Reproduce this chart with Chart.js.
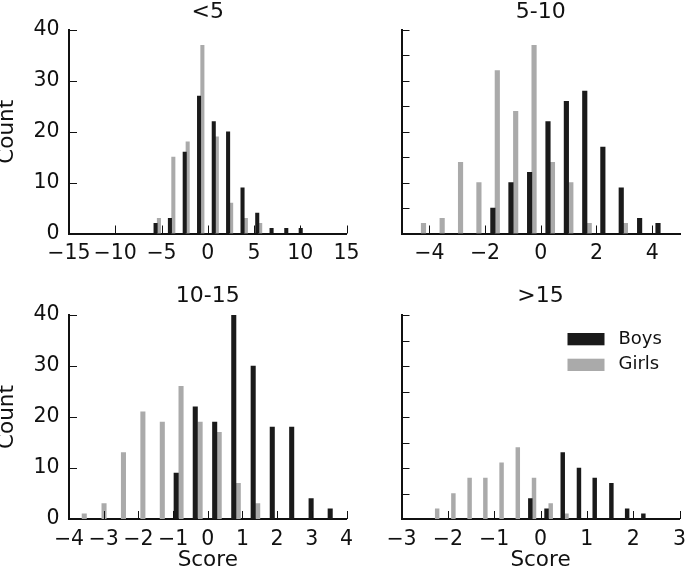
<!DOCTYPE html>
<html>
<head>
<meta charset="utf-8">
<script src="https://cdn.jsdelivr.net/npm/chart.js@4.4.1/dist/chart.umd.min.js"></script>
<style>
  html, body { margin: 0; padding: 0; background: #fff; width: 685px; height: 577px; overflow: hidden; }
  canvas { position: absolute; left: 0; top: 0; }
</style>
</head>
<body>
<canvas id="p1" width="720" height="600"></canvas>
<canvas id="p2" width="720" height="600"></canvas>
<canvas id="p3" width="720" height="600"></canvas>
<canvas id="p4" width="720" height="600"></canvas>
<script>
const groupTitles = ['<5', '5-10', '10-15', '>15'];
const seriesNames = ['Boys', 'Girls'];

// <5
const boysX1 = [-5.64, -4.09, -2.49, -0.94, 0.65, 2.20, 3.76, 5.35, 6.90, 8.49, 10.05];
const boysN1 = [2, 3, 16, 27, 22, 20, 9, 4, 1, 1, 1];
const girlsX1 = [-5.28, -3.72, -2.17, -0.58, 0.98, 2.53, 4.12, 5.67];
const girlsN1 = [3, 15, 18, 37, 19, 6, 3, 2];

// 5-10
const boysX2 = [-1.72, -1.07, -0.40, 0.26, 0.92, 1.58, 2.23, 2.89, 3.55, 4.21];
const boysN2 = [5, 10, 12, 22, 26, 28, 17, 9, 3, 2];
const girlsX2 = [-4.21, -3.54, -2.88, -2.22, -1.56, -0.90, -0.24, 0.42, 1.08, 1.74, 3.04];
const girlsN2 = [2, 3, 14, 10, 32, 24, 37, 14, 10, 2, 2];

// 10-15
const boysX3 = [-0.91, -0.36, 0.20, 0.75, 1.31, 1.86, 2.42, 2.98, 3.53];
const boysN3 = [9, 22, 19, 40, 30, 18, 18, 4, 2];
const girlsX3 = [-3.56, -2.99, -2.43, -1.87, -1.31, -0.77, -0.22, 0.33, 0.88, 1.44];
const girlsN3 = [1, 3, 13, 21, 19, 26, 19, 17, 7, 3];

// >15
const boysX4 = [-0.22, 0.13, 0.48, 0.83, 1.17, 1.53, 1.87, 2.22];
const boysN4 = [4, 2, 13, 10, 8, 7, 2, 1];
const girlsX4 = [-2.23, -1.88, -1.53, -1.19, -0.84, -0.49, -0.14, 0.22, 0.56];
const girlsN4 = [2, 5, 8, 8, 11, 14, 8, 3, 1];

const xRange1 = [-15, 15], xTicks1 = [-15, -10, -5, 0, 5, 10, 15];
const xRange2 = [-5, 5],   xTicks2 = [-4, -2, 0, 2, 4];
const xRange3 = [-4, 4],   xTicks3 = [-4, -3, -2, -1, 0, 1, 2, 3, 4];
const xRange4 = [-3, 3],   xTicks4 = [-3, -2, -1, 0, 1, 2, 3];
const yRange = [0, 40],    yTicks = [0, 5, 10, 15, 20, 25, 30, 35, 40];

const BOYS = '#1a1a1a';
const GIRLS = '#aaaaaa';
const INK = '#111111';
const CW = 720, CH = 600;
const TITLE_SIZE = 22;

Chart.defaults.font.family = "'DejaVu Sans', sans-serif";
Chart.defaults.color = INK;

const fmt = v => (v < 0 ? '\u2212' + Math.abs(v) : String(v));
const pts = (xs, ns) => xs.map((x, i) => ({ x: x, y: ns[i] }));

// matplotlib-style ticks pointing into the axes
const inwardTicks = {
  id: 'inwardTicks',
  afterDatasetsDraw(chart) {
    const { ctx, chartArea, scales: { x, y } } = chart;
    ctx.save();
    ctx.strokeStyle = INK;
    ctx.lineWidth = 1;
    ctx.beginPath();
    x.ticks.forEach(t => {
      const px = Math.round(x.getPixelForValue(t.value)) + 0.5;
      ctx.moveTo(px, chartArea.bottom);
      ctx.lineTo(px, chartArea.bottom - 8);
    });
    y.ticks.forEach(t => {
      const py = Math.round(y.getPixelForValue(t.value)) + 0.5;
      ctx.moveTo(chartArea.left, py);
      ctx.lineTo(chartArea.left + 8, py);
    });
    ctx.stroke();
    ctx.restore();
  }
};

const boxLegend = {
  id: 'boxLegend',
  afterDraw(chart) {
    const { ctx, chartArea } = chart;
    ctx.save();
    ctx.font = "18px 'DejaVu Sans'";
    ctx.textBaseline = 'middle';
    chart.data.datasets.forEach((ds, i) => {
      const yMid = chartArea.top + 24 + i * 25.7;
      ctx.fillStyle = ds.backgroundColor;
      ctx.fillRect(chartArea.right - 112, yMid - 6, 37, 12.3);
      ctx.fillStyle = INK;
      ctx.fillText(ds.label, chartArea.right - 61, yMid);
    });
    ctx.restore();
  }
};

function panel(id, p) {
  const a = p.area;
  const half = TITLE_SIZE * 0.6;
  const extra = [inwardTicks];
  if (p.legend) extra.push(boxLegend);
  new Chart(document.getElementById(id), {
    type: 'bar',
    data: {
      datasets: [
        { label: seriesNames[0], data: pts(p.bx, p.bn), backgroundColor: BOYS, barThickness: p.bw, grouped: false },
        { label: seriesNames[1], data: pts(p.gx, p.gn), backgroundColor: GIRLS, barThickness: p.bw, grouped: false }
      ]
    },
    options: {
      responsive: false,
      animation: false,
      layout: {
        padding: { left: a.left - p.yw, top: p.titleY - half, right: CW - a.right, bottom: CH - a.bottom - p.xh }
      },
      plugins: {
        legend: { display: false },
        tooltip: { enabled: false },
        title: {
          display: true, text: p.title, fullSize: false, color: INK,
          font: { size: TITLE_SIZE, weight: 'normal' },
          padding: { top: 0, bottom: a.top - p.titleY - half }
        }
      },
      scales: {
        x: {
          type: 'linear', offset: false, min: p.xr[0], max: p.xr[1],
          grid: { display: false, drawTicks: false },
          border: { display: true, color: INK, width: 2 },
          afterBuildTicks: s => { s.ticks = p.xt.map(v => ({ value: v })); },
          afterFit: s => { s.height = p.xh; },
          ticks: { autoSkip: false, maxRotation: 0, minRotation: 0, padding: 8, color: INK, font: { size: 20.5 }, callback: fmt },
          title: { display: p.xTitle, text: 'Score', color: INK, font: { size: 21.5 }, padding: { top: 0, bottom: 0.5 } }
        },
        y: {
          min: yRange[0], max: yRange[1],
          grid: { display: false, drawTicks: false },
          border: { display: true, color: INK, width: 2 },
          afterBuildTicks: s => { s.ticks = yTicks.map(v => ({ value: v })); },
          afterFit: s => { s.width = p.yw; },
          ticks: { display: p.yLabels, padding: 9.5, color: INK, font: { size: 20.5 }, callback: fmt },
          title: { display: p.yLabels, text: 'Count', color: INK, font: { size: 21.5, lineHeight: 0.7 }, padding: 0 }
        }
      }
    },
    plugins: extra
  });
}

panel('p1', { title: groupTitles[0], area: { left: 69, top: 30, right: 346.5, bottom: 233.5 }, titleY: 12.4,
  bx: boysX1, bn: boysN1, gx: girlsX1, gn: girlsN1, bw: 3.4, xr: xRange1, xt: xTicks1,
  yw: 69, xh: 40, yLabels: true, xTitle: false });
panel('p2', { title: groupTitles[1], area: { left: 401.5, top: 30, right: 680, bottom: 233.5 }, titleY: 12.4,
  bx: boysX2, bn: boysN2, gx: girlsX2, gn: girlsN2, bw: 4.5, xr: xRange2, xt: xTicks2,
  yw: 20, xh: 40, yLabels: false, xTitle: false });
panel('p3', { title: groupTitles[2], area: { left: 69, top: 315, right: 346.5, bottom: 519 }, titleY: 296.4,
  bx: boysX3, bn: boysN3, gx: girlsX3, gn: girlsN3, bw: 4.4, xr: xRange3, xt: xTicks3,
  yw: 69, xh: 55, yLabels: true, xTitle: true });
panel('p4', { title: groupTitles[3], area: { left: 401.5, top: 315, right: 679.5, bottom: 519 }, titleY: 296.4,
  bx: boysX4, bn: boysN4, gx: girlsX4, gn: girlsN4, bw: 3.8, xr: xRange4, xt: xTicks4,
  yw: 20, xh: 55, yLabels: false, xTitle: true, legend: true });
</script>
</body>
</html>
